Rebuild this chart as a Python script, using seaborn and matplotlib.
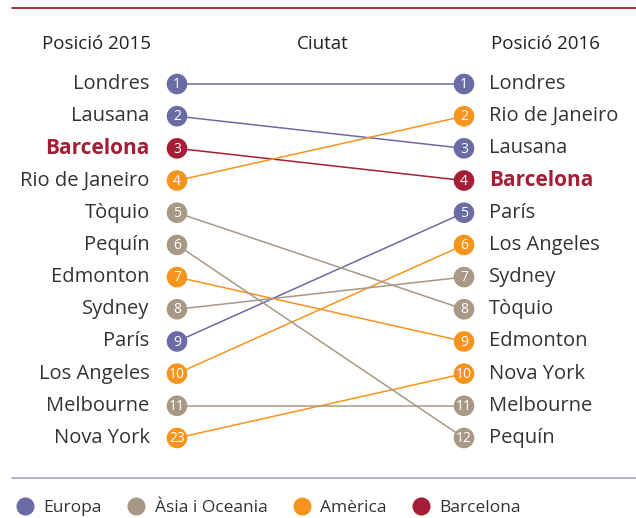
import matplotlib
matplotlib.use("Agg")
import matplotlib.pyplot as plt
from matplotlib.lines import Line2D
import seaborn as sns
import pandas as pd

# ranking data (Posició 2015 -> Posició 2016)
cities_2015 = ["Londres", "Lausana", "Barcelona", "Rio de Janeiro", "Tòquio", "Pequín",
               "Edmonton", "Sydney", "París", "Los Angeles", "Melbourne", "Nova York"]
rank_2015 = [1, 2, 3, 4, 5, 6, 7, 8, 9, 10, 11, 23]
cities_2016 = ["Londres", "Rio de Janeiro", "Lausana", "Barcelona", "París", "Los Angeles",
               "Sydney", "Tòquio", "Edmonton", "Nova York", "Melbourne", "Pequín"]
rank_2016 = [1, 2, 3, 4, 5, 6, 7, 8, 9, 10, 11, 12]
regions = {"Londres": "Europa", "Lausana": "Europa", "París": "Europa",
           "Barcelona": "Barcelona",
           "Rio de Janeiro": "Amèrica", "Edmonton": "Amèrica", "Los Angeles": "Amèrica",
           "Nova York": "Amèrica",
           "Tòquio": "Àsia i Oceania", "Pequín": "Àsia i Oceania", "Sydney": "Àsia i Oceania",
           "Melbourne": "Àsia i Oceania"}
groups = ["Europa", "Àsia i Oceania", "Amèrica", "Barcelona"]
colors = ["#6B6BA6", "#A89886", "#F7941D", "#A51E36"]
palette = dict(zip(groups, colors))

rows = []
for i, (c, r) in enumerate(zip(cities_2015, rank_2015)):
    rows.append({"city": c, "x": 0, "row": i, "rank": r, "group": regions[c]})
for i, (c, r) in enumerate(zip(cities_2016, rank_2016)):
    rows.append({"city": c, "x": 1, "row": i, "rank": r, "group": regions[c]})
df = pd.DataFrame(rows)

sns.set_theme(style="white")
plt.rcParams["font.family"] = ["Open Sans", "DejaVu Sans"]

fig = plt.figure(figsize=(6.36, 5.18), dpi=100)
ax = fig.add_axes([0, 0, 1, 1])

sns.lineplot(data=df, x="x", y="row", hue="group", units="city", estimator=None,
             palette=palette, linewidth=1.1, legend=False, ax=ax, zorder=1)
sns.scatterplot(data=df, x="x", y="row", hue="group", palette=palette, s=220,
                linewidth=0, legend=False, ax=ax, zorder=2)

for _, r in df.iterrows():
    ax.text(r["x"], r["row"] + 0.02, str(r["rank"]), color="white", fontsize=10,
            ha="center", va="center", zorder=3)
    bcn = r["city"] == "Barcelona"
    kw = dict(va="center", color=palette["Barcelona"] if bcn else "#333333",
              fontsize=15 if bcn else 14.5, fontweight="bold" if bcn else "normal")
    if r["x"] == 0:
        ax.text(-0.095, r["row"], r["city"], ha="right", **kw)
    else:
        ax.text(1.087, r["row"], r["city"], ha="left", **kw)

# pixel-matched axis limits
ax.set_xlim(-177 / 287, (636 - 177) / 287)
ax.set_ylim((518 - 84) / 32.18, -84 / 32.18)
ax.axis("off")

# headers
for xp, t in [(97, "Posició 2015"), (323, "Ciutat"), (545, "Posició 2016")]:
    fig.text(xp / 636, 1 - 44 / 518, t, ha="center", va="center", fontsize=13.5, color="#222222")

# separators
fig.add_artist(Line2D([12 / 636, 1], [1 - 8 / 518] * 2, color="#A51E36", lw=1.3))
fig.add_artist(Line2D([12 / 636, 1], [1 - 478 / 518] * 2, color="#A9A9CC", lw=1.3))

handles = [Line2D([], [], marker="o", ls="", markersize=13, markerfacecolor=c,
                  markeredgewidth=0) for c in colors]
fig.legend(handles, groups, loc="center left", bbox_to_anchor=(0.012, 1 - 508 / 518), ncol=4,
           frameon=False, fontsize=12.5, handletextpad=0.45, columnspacing=1.4,
           labelcolor="#333333", borderaxespad=0, handlelength=1.2)

fig.savefig("out.png", dpi=100)
